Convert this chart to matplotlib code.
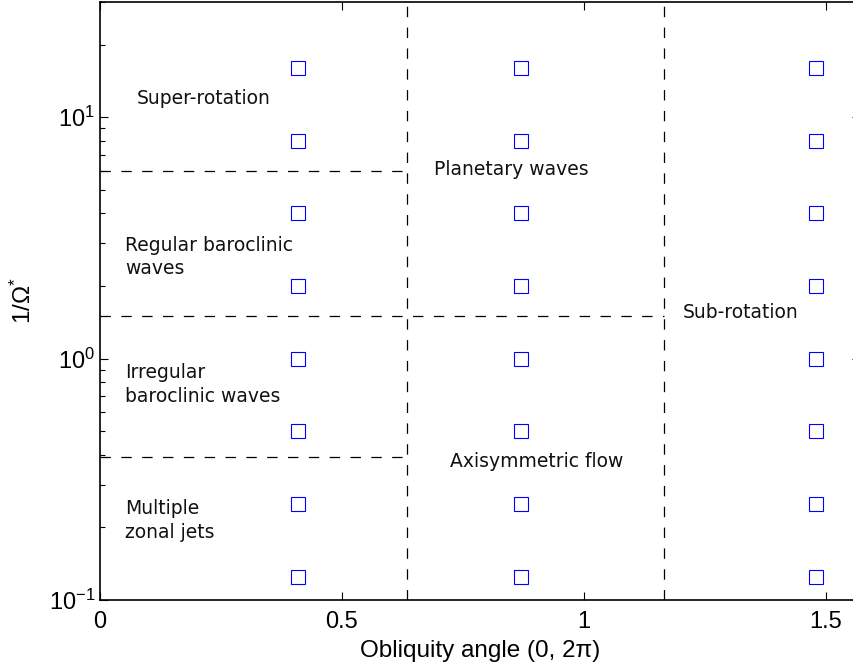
import numpy as np
import matplotlib
matplotlib.use('Agg')
import matplotlib.pyplot as plt

# regime diagram data
obliquity = [0.41, 0.87, 1.48]
inv_omega = [0.125, 0.25, 0.5, 1, 2, 4, 8, 16]

# regime boundaries
x_split = [0.634, 1.165]
y_split_left = [6.0, 0.39]
y_split_mid = 1.5

labels = ['Super-rotation', 'Planetary waves', 'Regular baroclinic\nwaves',
          'Sub-rotation', 'Irregular\nbaroclinic waves', 'Axisymmetric flow',
          'Multiple\nzonal jets']
label_x = [0.076, 0.690, 0.052, 1.205, 0.052, 0.723, 0.052]
label_y = [12.0, 6.1, 2.64, 1.55, 0.78, 0.375, 0.213]

plt.rcParams['font.family'] = ['Liberation Sans', 'DejaVu Sans']
plt.rcParams['mathtext.fontset'] = 'custom'
plt.rcParams['mathtext.rm'] = 'Liberation Sans'
plt.rcParams['mathtext.it'] = 'Liberation Sans:italic'
plt.rcParams['lines.scale_dashes'] = False

fig = plt.figure(figsize=(8.54, 6.66), dpi=100)
ax = fig.add_axes([100 / 854, 66 / 666, 760 / 854, 598 / 666])

dash = dict(color='black', lw=0.9, dashes=(7.5, 7.5))
for xs in x_split:
    ax.plot([xs, xs], [0.1, 30], **dash)
for ys in y_split_left:
    ax.plot([0, x_split[0]], [ys, ys], **dash)
ax.plot([0, x_split[1]], [y_split_mid, y_split_mid], **dash)

for x in obliquity:
    ax.plot([x] * len(inv_omega), inv_omega, 's', ms=10, mfc='none',
            mec='blue', mew=0.8, ls='none')

for t, x, y in zip(labels, label_x, label_y):
    ax.text(x, y, t, fontsize=13.5, family='DejaVu Sans', va='center',
            ha='left', linespacing=1.3, color='#111111')

ax.set_yscale('log')
ax.set_xlim(0, np.pi / 2)
ax.set_ylim(0.1, 30)
ax.set_xticks([0, 0.5, 1, 1.5])
ax.set_xticklabels(['0', '0.5', '1', '1.5'])
ax.tick_params(which='both', direction='in', top=True, right=True,
               labelsize=17, width=0.8)
ax.tick_params(which='major', length=6)
ax.tick_params(which='minor', length=3.5)
ax.tick_params(axis='x', pad=8)
for s in ax.spines.values():
    s.set_linewidth(1.2)

ax.set_xlabel('Obliquity angle (0, 2π)', fontsize=17.5, labelpad=5)
ax.set_ylabel(r'$\mathdefault{1/\Omega^{*}}$', fontsize=17.5, labelpad=9)

fig.savefig('out.png', dpi=100)
